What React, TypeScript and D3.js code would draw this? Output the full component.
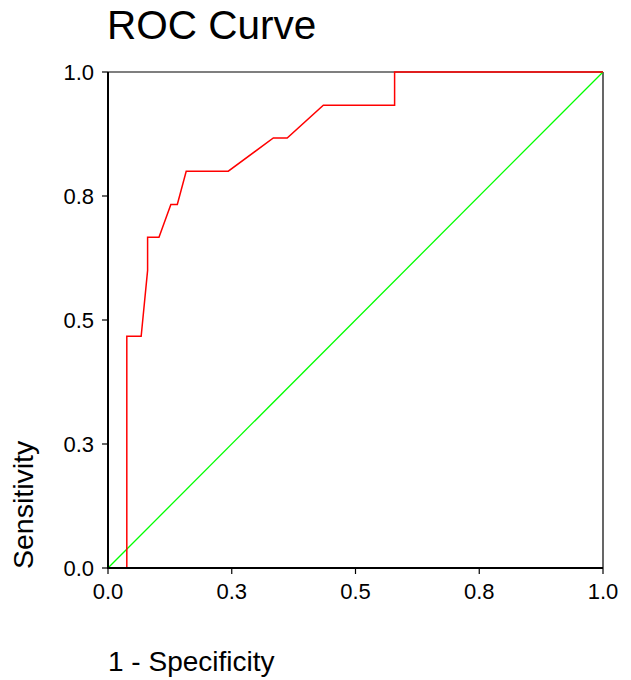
import React from "react";
import * as d3 from "d3";

// ROC points (1 - specificity, sensitivity)
const fpr = [0, 0.038, 0.038, 0.067, 0.08, 0.08, 0.103, 0.127, 0.14, 0.158, 0.243, 0.334, 0.362, 0.435, 0.579, 0.579, 1];
const tpr = [0, 0, 0.467, 0.467, 0.6, 0.667, 0.667, 0.733, 0.733, 0.8, 0.8, 0.867, 0.867, 0.933, 0.933, 1, 1];
const refLine = [0, 1];
const tickValues = [0, 0.25, 0.5, 0.75, 1];
const tickLabels = ["0.0", "0.3", "0.5", "0.8", "1.0"];

const W = 631;
const H = 680;
const left = 108;
const right = 603;
const top = 72;
const bottom = 568;
const font = "'Liberation Sans', Arial, sans-serif";

export default function App() {
  const x = d3.scaleLinear().domain([0, 1]).range([left, right]);
  const y = d3.scaleLinear().domain([0, 1]).range([bottom, top]);

  const line = d3
    .line<number>()
    .x((d, i) => x(fpr[i]))
    .y((d, i) => y(tpr[i]));

  const diag = d3
    .line<number>()
    .x(d => x(d))
    .y(d => y(d));

  return (
    <svg width={W} height={H} style={{ position: "absolute", left: 0, top: 0 }} fontFamily={font}>
      <rect width={W} height={H} fill="#fff" />
      <text x={107} y={39} fontSize={40.5}>ROC Curve</text>

      {/* frame */}
      <line x1={left} x2={right} y1={top} y2={top} stroke="#000" strokeWidth={1.2} />
      <line x1={right} x2={right} y1={top} y2={bottom} stroke="#000" strokeWidth={1.2} />

      <path d={diag(refLine) || ""} fill="none" stroke="#00ff00" strokeWidth={1.3} />
      <path d={line(fpr) || ""} fill="none" stroke="#ff0000" strokeWidth={1.5} />

      {/* axes */}
      <line x1={left} x2={left} y1={top} y2={bottom + 1} stroke="#000" strokeWidth={2} />
      <line x1={left - 1} x2={right} y1={bottom} y2={bottom} stroke="#000" strokeWidth={2} />

      {tickValues.map((t, i) => (
        <g key={"y" + i}>
          <line x1={left - 6} x2={left} y1={y(t)} y2={y(t)} stroke="#000" strokeWidth={1.2} />
          <text x={94} y={y(t)} dy="0.35em" fontSize={22} textAnchor="end">{tickLabels[i]}</text>
        </g>
      ))}
      {tickValues.map((t, i) => (
        <g key={"x" + i}>
          <line x1={x(t)} x2={x(t)} y1={bottom} y2={bottom + 6} stroke="#000" strokeWidth={1.2} />
          <text x={x(t)} y={599} fontSize={22} textAnchor="middle">{tickLabels[i]}</text>
        </g>
      ))}

      <text transform={`translate(33,569) rotate(-90)`} fontSize={28.5}>Sensitivity</text>
      <text x={108} y={671} fontSize={28}>1 - Specificity</text>
    </svg>
  );
}
